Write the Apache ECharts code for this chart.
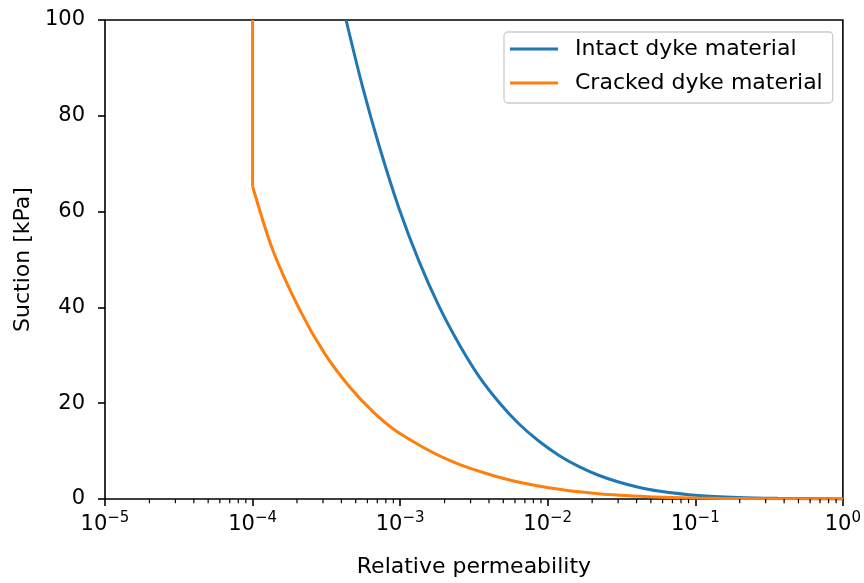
<!DOCTYPE html>
<html>
<head>
<meta charset="utf-8">
<script src="https://cdn.jsdelivr.net/npm/echarts@6/dist/echarts.min.js"></script>
<style>
  html, body { margin: 0; padding: 0; background: #fff; }
  #chart { width: 864px; height: 583px; }
</style>
</head>
<body>
<div id="chart"></div>
<script>
// ---- Data ----
const seriesNames = ['Intact dyke material', 'Cracked dyke material'];

const intactPermeability = [4.30e-4, 5.56e-4, 7.21e-4, 9.84e-4, 1.343e-3, 1.836e-3, 2.51e-3, 3.42e-3, 4.67e-3, 6.37e-3, 8.69e-3, 1.186e-2, 1.618e-2, 2.21e-2, 3.02e-2, 4.12e-2, 5.62e-2, 0.1047, 0.1954, 0.364, 0.678, 1.0];
const intactSuction      = [100,     86.1,    73.7,    60.6,    49.6,     40.2,     32.3,    25.6,    20.2,    15.7,    12.1,    9.15,     6.81,     4.96,    3.54,    2.46,    1.67,    0.735,  0.32,   0.14,  0.06,  0];

const crackedPermeability = [1.0e-4, 1.0e-4, 1.37e-4, 2.08e-4, 3.06e-4, 4.52e-4, 6.67e-4, 9.84e-4, 2.14e-3, 4.67e-3, 1.016e-2, 2.21e-2, 4.81e-2, 0.1047, 0.228, 0.497, 1.0];
const crackedSuction      = [100,    65.3,   52.0,    39.6,    30.5,    23.5,    18.0,    13.8,    8.10,    4.55,    2.34,     1.09,    0.48,    0.20,   0.081, 0.033, 0];

const xMin = 1e-5, xMax = 1;
const yMin = 0, yMax = 100, yStep = 20;
const xMinorTickValues = [2e-5,3e-5,4e-5,5e-5,6e-5,7e-5,8e-5,9e-5,
                          2e-4,3e-4,4e-4,5e-4,6e-4,7e-4,8e-4,9e-4,
                          2e-3,3e-3,4e-3,5e-3,6e-3,7e-3,8e-3,9e-3,
                          2e-2,3e-2,4e-2,5e-2,6e-2,7e-2,8e-2,9e-2,
                          0.2,0.3,0.4,0.5,0.6,0.7,0.8,0.9];

const colors = ['#1f77b4', '#ff7f0e'];
const FONT = 'DejaVu Sans';

function pairs(xs, ys) { return xs.map((x, i) => [x, ys[i]]); }

const crackedPairs = pairs(crackedPermeability, crackedSuction);

const chart = echarts.init(document.getElementById('chart'), null, { renderer: 'canvas' });

const option = {
  animation: false,
  backgroundColor: '#ffffff',
  textStyle: { fontFamily: FONT },
  grid: {
    left: 105, right: 19, top: 20, bottom: 83,
    show: true, borderColor: '#000', borderWidth: 1.6, backgroundColor: 'transparent'
  },
  legend: {
    data: seriesNames,
    orient: 'vertical',
    left: 504, top: 32,
    icon: 'rect',
    itemWidth: 48, itemHeight: 3,
    itemGap: 10,
    padding: [5, 10, 8, 6],
    borderColor: '#cccccc', borderWidth: 1.3, borderRadius: 4,
    backgroundColor: 'rgba(255,255,255,0.8)',
    textStyle: { fontFamily: FONT, fontSize: 22, color: '#000', lineHeight: 24, padding: [0, 0, 0, 12] }
  },
  xAxis: {
    type: 'log', logBase: 10, min: xMin, max: xMax,
    name: 'Relative permeability', nameLocation: 'middle', nameGap: 57,
    nameTextStyle: { fontFamily: FONT, fontSize: 22, color: '#000' },
    axisLine: { show: false },
    axisTick: { show: true, inside: false, length: 7, lineStyle: { color: '#000', width: 1.6 } },
    splitLine: { show: false },
    axisLabel: {
      margin: 12,
      color: '#000',
      formatter: function (v) {
        const e = Math.round(Math.log10(v));
        return '{b|10}{s|' + (e < 0 ? '\u2212' : '') + Math.abs(e) + '}';
      },
      rich: {
        b: { fontFamily: FONT, fontSize: 21, color: '#000' },
        s: { fontFamily: FONT, fontSize: 15, color: '#000', padding: [0, 0, 12, 0] }
      }
    }
  },
  yAxis: {
    type: 'value', min: yMin, max: yMax, interval: yStep,
    name: 'Suction [kPa]', nameLocation: 'middle', nameGap: 65, nameRotate: 90,
    nameTextStyle: { fontFamily: FONT, fontSize: 22, color: '#000' },
    axisLine: { show: false },
    axisTick: { show: true, inside: false, length: 7, lineStyle: { color: '#000', width: 1.6 } },
    splitLine: { show: false },
    axisLabel: { margin: 20, fontFamily: FONT, fontSize: 21, color: '#000' }
  },
  series: [
    {
      name: seriesNames[0], type: 'line',
      data: pairs(intactPermeability, intactSuction),
      showSymbol: false, smooth: 0.3,
      lineStyle: { color: colors[0], width: 3 }, itemStyle: { color: colors[0] },
      z: 3
    },
    {
      // vertical cut-off part of the cracked curve (sharp corner kept)
      name: seriesNames[1], type: 'line',
      data: crackedPairs.slice(0, 2),
      showSymbol: false, smooth: false,
      lineStyle: { color: colors[1], width: 3 }, itemStyle: { color: colors[1] },
      z: 4
    },
    {
      name: seriesNames[1], type: 'line',
      data: crackedPairs.slice(1),
      showSymbol: false, smooth: 0.3,
      lineStyle: { color: colors[1], width: 3 }, itemStyle: { color: colors[1] },
      z: 4
    },
    {
      name: 'minorTicks', type: 'custom', silent: true, clip: false,
      data: xMinorTickValues.map(v => [v, yMin]),
      encode: { x: 0, y: 1 },
      renderItem: function (params, api) {
        const p = api.coord([api.value(0), api.value(1)]);
        return {
          type: 'line',
          shape: { x1: p[0], y1: p[1], x2: p[0], y2: p[1] + 4.2 },
          style: { stroke: '#000', lineWidth: 1.2 }
        };
      },
      z: 5
    }
  ]
};

chart.setOption(option);
</script>
</body>
</html>
